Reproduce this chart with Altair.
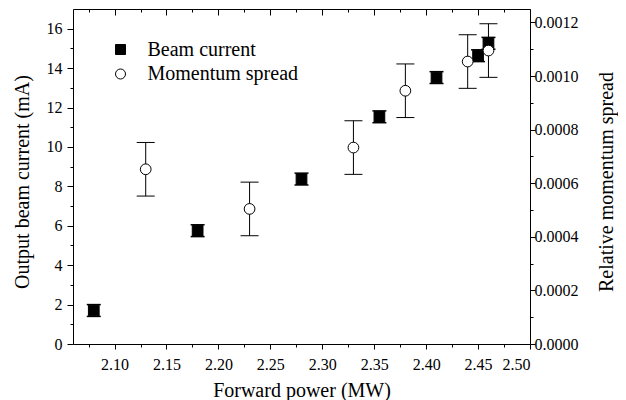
import altair as alt
import pandas as pd

# ---- data ----
beam_power = [2.08, 2.18, 2.28, 2.355, 2.41, 2.45, 2.46]
beam_current = [1.70, 5.75, 8.37, 11.53, 13.52, 14.63, 15.26]
beam_error = [0.30, 0.30, 0.30, 0.30, 0.30, 0.30, 0.30]

spread_power = [2.13, 2.23, 2.33, 2.38, 2.44, 2.46]
spread_value = [0.000652, 0.000504, 0.000733, 0.000945, 0.001054, 0.001095]
spread_error = [0.0001, 0.0001, 0.0001, 0.0001, 0.0001, 0.0001]

series_names = ["Beam current", "Momentum spread"]

x_major = [2.10, 2.15, 2.20, 2.25, 2.30, 2.35, 2.40, 2.45, 2.50]
x_minor = [2.075, 2.125, 2.175, 2.225, 2.275, 2.325, 2.375, 2.425, 2.475]
y_left_major = [0, 2, 4, 6, 8, 10, 12, 14, 16]
y_left_minor = [1, 3, 5, 7, 9, 11, 13, 15]
y_right_major = [0.0, 0.0002, 0.0004, 0.0006, 0.0008, 0.0010, 0.0012]
y_right_minor = [0.0001, 0.0003, 0.0005, 0.0007, 0.0009, 0.0011]

beam = pd.DataFrame({"power": beam_power, "value": beam_current, "err": beam_error})
beam["lo"] = beam["value"] - beam["err"]
beam["hi"] = beam["value"] + beam["err"]
beam["series"] = series_names[0]

spread = pd.DataFrame({"power": spread_power, "value": spread_value, "err": spread_error})
spread["lo"] = spread["value"] - spread["err"]
spread["hi"] = spread["value"] + spread["err"]
spread["series"] = series_names[1]

FONT = "Liberation Serif"

x_scale = alt.Scale(domain=[2.06, 2.50], nice=False, zero=False)
yl_scale = alt.Scale(domain=[0, 17], nice=False, zero=False)
yr_scale = alt.Scale(domain=[0, 0.00125], nice=False, zero=False)


def axis(orient, values, size, **kw):
    base = dict(orient=orient, values=values, tickSize=size, domain=False, grid=False,
                ticks=True, tickColor="black", tickWidth=1)
    base.update(kw)
    if "labels" not in base:
        base["labels"] = False
    if "title" not in base:
        base["title"] = None
    return alt.Axis(**base)


legend = alt.Legend(title=None, orient="none", legendX=37.5, legendY=30.5, padding=0,
                    labelFont=FONT, labelFontSize=20, labelColor="black",
                    symbolSize=100, symbolStrokeColor="black", symbolStrokeWidth=1,
                    labelOffset=17, rowPadding=4.5)
shape_enc = alt.Shape("series:N", scale=alt.Scale(domain=series_names, range=["square", "circle"]),
                      legend=legend)
fill_enc = alt.Fill("series:N", scale=alt.Scale(domain=series_names, range=["black", "white"]),
                    legend=legend)
stroke_enc = alt.Stroke("series:N", scale=alt.Scale(domain=series_names, range=["black", "black"]),
                        legend=legend)

NOX = dict(axis=None)

# ---- beam current (left axis) ----
beam_base = alt.Chart(beam)
beam_rule = beam_base.mark_rule(color="black", strokeWidth=1.5).encode(
    x=alt.X("power:Q", scale=x_scale,
            axis=axis("bottom", x_major, 5, labels=True, format=".2f", labelPadding=7,
                      title="Forward power (MW)", titlePadding=8)),
    y=alt.Y("lo:Q", scale=yl_scale,
            axis=axis("left", y_left_major, 6, labels=True, format="d", labelPadding=5,
                      title="Output beam current (mA)", titleX=-41, titleY=172.5)),
    y2="hi:Q",
)
beam_cap_lo = beam_base.mark_tick(orient="horizontal", size=14, thickness=1.5, color="black", opacity=1).encode(
    x=alt.X("power:Q", scale=x_scale, **NOX), y=alt.Y("lo:Q", scale=yl_scale, **NOX))
beam_cap_hi = beam_base.mark_tick(orient="horizontal", size=14, thickness=1.5, color="black", opacity=1).encode(
    x=alt.X("power:Q", scale=x_scale, **NOX), y=alt.Y("hi:Q", scale=yl_scale, **NOX))
beam_pts = beam_base.mark_point(size=115, opacity=1, strokeWidth=1).encode(
    x=alt.X("power:Q", scale=x_scale, **NOX), y=alt.Y("value:Q", scale=yl_scale, **NOX),
    shape=shape_enc, fill=fill_enc, stroke=stroke_enc)

minor_bl = beam_base.mark_point(opacity=0).encode(
    x=alt.X("power:Q", scale=x_scale, axis=axis("bottom", x_minor, 3)),
    y=alt.Y("value:Q", scale=yl_scale, axis=axis("left", y_left_minor, 3)))
top_major = beam_base.mark_point(opacity=0).encode(
    x=alt.X("power:Q", scale=x_scale, axis=axis("top", x_major, 6, offset=-6)),
    y=alt.Y("value:Q", scale=yl_scale, **NOX))
top_minor = beam_base.mark_point(opacity=0).encode(
    x=alt.X("power:Q", scale=x_scale, axis=axis("top", x_minor, 3, offset=-3)),
    y=alt.Y("value:Q", scale=yl_scale, **NOX))

beam_group = alt.layer(beam_rule, beam_cap_lo, beam_cap_hi, beam_pts, minor_bl, top_major, top_minor
                       ).resolve_axis(x="independent", y="independent")

# ---- momentum spread (right axis) ----
sp_base = alt.Chart(spread)
sp_rule = sp_base.mark_rule(color="black", strokeWidth=1).encode(
    x=alt.X("power:Q", scale=x_scale, **NOX),
    y=alt.Y("lo:Q", scale=yr_scale,
            axis=axis("right", y_right_major, 5, labels=True, format=".4f", labelPadding=-1,
                      title="Relative momentum spread", titleAngle=270,
                      titleBaseline="top", titleX=66.5, titleY=172.5)),
    y2="hi:Q",
)
sp_cap_lo = sp_base.mark_tick(orient="horizontal", size=18, thickness=1, color="black", opacity=1).encode(
    x=alt.X("power:Q", scale=x_scale, **NOX), y=alt.Y("lo:Q", scale=yr_scale, **NOX))
sp_cap_hi = sp_base.mark_tick(orient="horizontal", size=18, thickness=1, color="black", opacity=1).encode(
    x=alt.X("power:Q", scale=x_scale, **NOX), y=alt.Y("hi:Q", scale=yr_scale, **NOX))
sp_pts = sp_base.mark_point(size=115, opacity=1, strokeWidth=1).encode(
    x=alt.X("power:Q", scale=x_scale, **NOX), y=alt.Y("value:Q", scale=yr_scale, **NOX),
    shape=shape_enc, fill=fill_enc, stroke=stroke_enc)
minor_r = sp_base.mark_point(opacity=0).encode(
    x=alt.X("power:Q", scale=x_scale, **NOX),
    y=alt.Y("value:Q", scale=yr_scale, axis=axis("right", y_right_minor, 3)))

sp_group = alt.layer(sp_rule, sp_cap_lo, sp_cap_hi, sp_pts, minor_r
                     ).resolve_axis(x="independent", y="independent")

chart = alt.layer(beam_group, sp_group).resolve_scale(y="independent").resolve_axis(
    x="independent", y="independent"
).properties(
    width=457, height=335,
    autosize=alt.AutoSizeParams(type="none"),
    padding={"left": 65, "top": 1, "right": 88, "bottom": 56},
).configure_view(stroke="black", strokeWidth=1).configure_axis(
    labelFont=FONT, labelFontSize=16, labelColor="black",
    titleFont=FONT, titleFontSize=20, titleColor="black", titleFontWeight="normal",
)

chart.save("out.html", embed_options={"renderer": "svg", "actions": False})
